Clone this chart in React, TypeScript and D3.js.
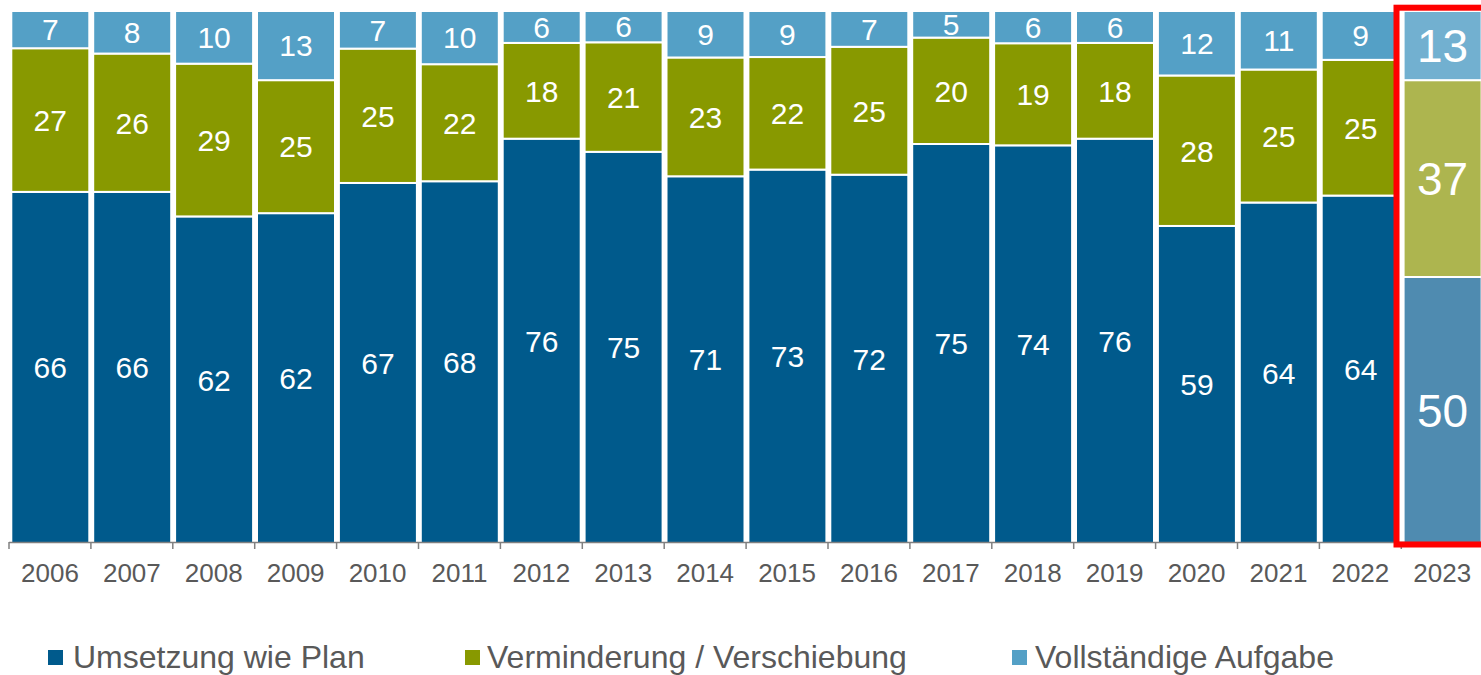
import React, { useEffect } from "react";
import * as d3 from "d3";

const years = ["2006","2007","2008","2009","2010","2011","2012","2013","2014","2015","2016","2017","2018","2019","2020","2021","2022","2023"];
const umsetzung = [66,66,62,62,67,68,76,75,71,73,72,75,74,76,59,64,64,50];
const verminderung = [27,26,29,25,25,22,18,21,23,22,25,20,19,18,28,25,25,37];
const aufgabe = [7,8,10,13,7,10,6,6,9,9,7,5,6,6,12,11,9,13];
const seriesNames = ["Umsetzung wie Plan", "Verminderung / Verschiebung", "Vollständige Aufgabe"];
const colors = ["#005a8c", "#889900", "#54a0c6"];
const highlightColors = ["#4f8bb0", "#adb54f", "#72b0d0"];

const W = 1481, H = 675;
const FONT = "'Liberation Sans', Arial, Helvetica, sans-serif";

export default function App() {
  useEffect(() => {
    document.body.style.margin = "0";
  }, []);

  const x = d3.scaleBand<string>().domain(years).range([9, 9 + 81.9 * years.length]).padding(0);
  const y = d3.scaleLinear().domain([0, 1]).range([543, 11]);
  const bw = x.bandwidth();
  const lastIdx = years.length - 1;

  const rows = years.map((yr, i) => {
    const vals = [umsetzung[i], verminderung[i], aufgabe[i]];
    const total = d3.sum(vals);
    let acc = 0;
    const segs = vals.map((v, k) => {
      const y0 = acc / total;
      acc += v;
      const y1 = acc / total;
      return { k, v, y0, y1 };
    });
    return { yr, i, segs };
  });

  const xr = x.range();
  const legendSq = [48, 465, 1012];
  const legendTx = [73, 487, 1035];

  return (
    <svg width={W} height={H} style={{ display: "block", fontFamily: FONT }}>
      <rect x={0} y={0} width={W} height={H} fill="#fff" />
      {rows.map((r) =>
        r.segs.map((s) => {
          const bx = (x(r.yr) as number) + 2.3;
          const top = y(s.y1);
          const bot = y(s.y0);
          const hl = r.i === lastIdx;
          return (
            <g key={r.yr + s.k}>
              <rect x={bx} y={top} width={78} height={bot - top}
                fill={hl ? highlightColors[s.k] : colors[s.k]} stroke="#fff" strokeWidth={2} />
              <text x={bx + 39} y={(top + bot) / 2} dy="0.36em" textAnchor="middle"
                fill="#fff" fontSize={hl ? 46 : 30}>{s.v}</text>
            </g>
          );
        })
      )}
      {/* axis */}
      <line x1={xr[0]} x2={W} y1={542.5} y2={542.5} stroke="#808080" strokeWidth={1.5} />
      {years.map((yr) => (
        <line key={"t" + yr} x1={(x(yr) as number)} x2={(x(yr) as number)} y1={542} y2={549} stroke="#808080" strokeWidth={1.5} />
      ))}
      {years.map((yr) => (
        <text key={"l" + yr} x={(x(yr) as number) + bw / 2} y={582} textAnchor="middle" fill="#595959" fontSize={26}>{yr}</text>
      ))}
      {/* highlight frame */}
      <rect x={(x(years[lastIdx]) as number) - 4.8} y={y(1) - 3.3} width={100} height={544.5 - (y(1) - 3.3)}
        fill="none" stroke="#ff0000" strokeWidth={6} />
      {/* legend */}
      {seriesNames.map((n, k) => (
        <g key={n}>
          <rect x={legendSq[k]} y={650} width={15} height={15} fill={colors[k]} />
          <text x={legendTx[k]} y={668} fill="#595959" fontSize={32}>{n}</text>
        </g>
      ))}
    </svg>
  );
}
